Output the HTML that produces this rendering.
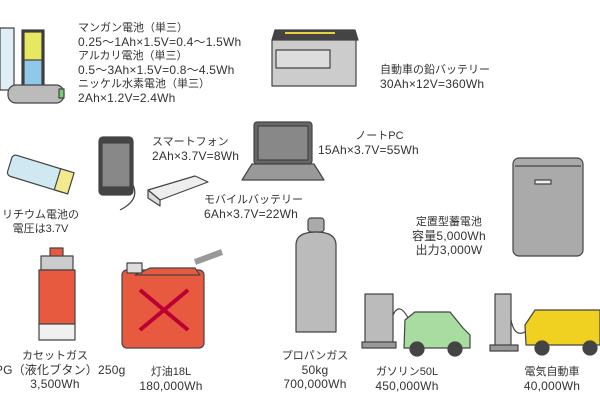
<!DOCTYPE html>
<html><head><meta charset="utf-8"><style>
body{margin:0;width:600px;height:400px;background:#fff;overflow:hidden;position:relative;font-family:"Liberation Sans","Noto Sans CJK JP",sans-serif;color:#333}
.t{position:absolute;font-size:11px;line-height:13.5px;white-space:nowrap}
.n{font-size:12px;letter-spacing:0.2px}
.c{text-align:center}
svg{position:absolute;left:0;top:0}
</style></head><body>
<svg width="600" height="400" viewBox="0 0 600 400" stroke="#444" stroke-width="1.2" stroke-linejoin="round">
<rect x="0" y="28" width="14" height="62" fill="#dfeef5"/>
<rect x="22" y="30" width="22" height="58" fill="#333"/>
<rect x="24" y="32" width="18" height="54" fill="#e8e860"/>
<rect x="24" y="60" width="18" height="26" fill="#8fc8e8"/>
<rect x="8" y="85" width="56" height="18" rx="8" fill="#bbb"/>
<rect x="59" y="89" width="5" height="9" fill="#7c7"/>
<path d="M275 30 L355 30 L358 40 L272 40 Z" fill="#444"/>
<rect x="272" y="40" width="84" height="46" fill="#ccc"/>
<rect x="276" y="50" width="54" height="18" fill="#ddd"/>
<line x1="285" y1="33" x2="335" y2="33" stroke="#e8d040" stroke-width="2"/>
<rect x="99" y="137" width="34" height="58" rx="4" fill="#444"/>
<rect x="102" y="143" width="28" height="44" fill="#888"/>
<path d="M148 190 L195 176 L208 182 L160 200 Z" fill="#eee"/>
<path d="M148 190 L160 200 L160 206 L148 198Z" fill="#ddd"/>
<path d="M133 185 Q140 200 120 210" fill="none"/>
<rect x="254" y="122" width="58" height="42" rx="3" fill="#666"/>
<rect x="258" y="126" width="50" height="34" fill="#888"/>
<path d="M252 164 L314 164 L324 180 L242 180 Z" fill="#999"/>
<g transform="rotate(17 40 175)"><rect x="8" y="163" width="62" height="22" rx="4" fill="#cfe8f2"/><rect x="58" y="163" width="14" height="22" fill="#f3ea90"/></g>
<rect x="513" y="158" width="70" height="98" rx="6" fill="#aaa"/>
<line x1="515" y1="166" x2="581" y2="166"/>
<rect x="535" y="180" width="16" height="4" fill="#eee"/>
<rect x="50" y="248" width="13" height="9" fill="#e85a40"/>
<rect x="41" y="256" width="32" height="14" fill="#ccc"/>
<rect x="39" y="270" width="36" height="54" fill="#e85a40"/>
<rect x="39" y="324" width="36" height="16" fill="#f0f0f0"/>
<rect x="122" y="270" width="82" height="78" rx="5" fill="#e85a40"/>
<path d="M135 275 L150 268 L195 268 L200 275 Z" fill="#e85a40"/>
<path d="M195 262 L222 252" stroke="#999" stroke-width="6"/>
<rect x="127" y="263" width="15" height="10" fill="#ddd"/>
<path d="M140 290 L188 330 M188 290 L140 330" stroke="#b03" stroke-width="4"/>
<rect x="308" y="218" width="16" height="14" rx="3" fill="#aaa"/>
<path d="M296 245 Q296 232 316 232 Q336 232 336 245 L336 332 L296 332 Z" fill="#bbb"/>
<rect x="365" y="294" width="28" height="50" fill="#bbb"/>
<rect x="362" y="342" width="34" height="6" fill="#999"/>
<path d="M393 315 Q400 300 410 322" fill="none"/>
<path d="M405 320 L415 312 L450 312 L463 328 L470 335 L470 348 L404 348 Z" fill="#a8dca0"/>
<circle cx="417" cy="349" r="7" fill="#444"/><circle cx="455" cy="349" r="7" fill="#444"/>
<rect x="495" y="294" width="16" height="52" fill="#bbb"/>
<rect x="490" y="345" width="28" height="6" fill="#999"/>
<path d="M511 320 Q515 340 528 330" fill="none"/>
<path d="M525 325 L535 310 L597 310 L600 310 L600 345 L526 345 Z" fill="#f0d020"/>
<circle cx="542" cy="348" r="7" fill="#444"/><circle cx="590" cy="348" r="7" fill="#444"/>
</svg>
<div class="t" style="left:78px;top:22px">マンガン電池（単三）<br><span class="n">0.25〜1Ah×1.5V=0.4〜1.5Wh</span><br>アルカリ電池（単三）<br><span class="n">0.5〜3Ah×1.5V=0.8〜4.5Wh</span><br>ニッケル水素電池（単三）<br><span class="n">2Ah×1.2V=2.4Wh</span></div>
<div class="t" style="left:380px;top:64px">自動車の鉛バッテリー<br><span class="n">30Ah×12V=360Wh</span></div>
<div class="t" style="left:152px;top:136px">スマートフォン<br><span class="n">2Ah×3.7V=8Wh</span></div>
<div class="t c" style="left:318px;top:130px">　　ノートPC<br><span class="n">15Ah×3.7V=55Wh</span></div>
<div class="t" style="left:204px;top:194px">モバイルバッテリー<br><span class="n">6Ah×3.7V=22Wh</span></div>
<div class="t c" style="left:2px;top:209px">リチウム電池の<br>電圧は3.7V</div>
<div class="t c" style="left:412px;top:216px">定置型蓄電池<br><span class="n">容量5,000Wh</span><br><span class="n">出力3,000W</span></div>
<div class="t c" style="left:-12px;top:350px;width:134px">カセットガス<br><span class="n">LPG（液化ブタン）250g</span><br><span class="n">3,500Wh</span></div>
<div class="t c" style="left:131px;top:366px;width:80px">灯油18L<br><span class="n">180,000Wh</span></div>
<div class="t c" style="left:275px;top:350px;width:80px">プロパンガス<br><span class="n">50kg</span><br><span class="n">700,000Wh</span></div>
<div class="t c" style="left:367px;top:366px;width:80px">ガソリン50L<br><span class="n">450,000Wh</span></div>
<div class="t c" style="left:512px;top:366px;width:80px">電気自動車<br><span class="n">40,000Wh</span></div>
</body></html>
